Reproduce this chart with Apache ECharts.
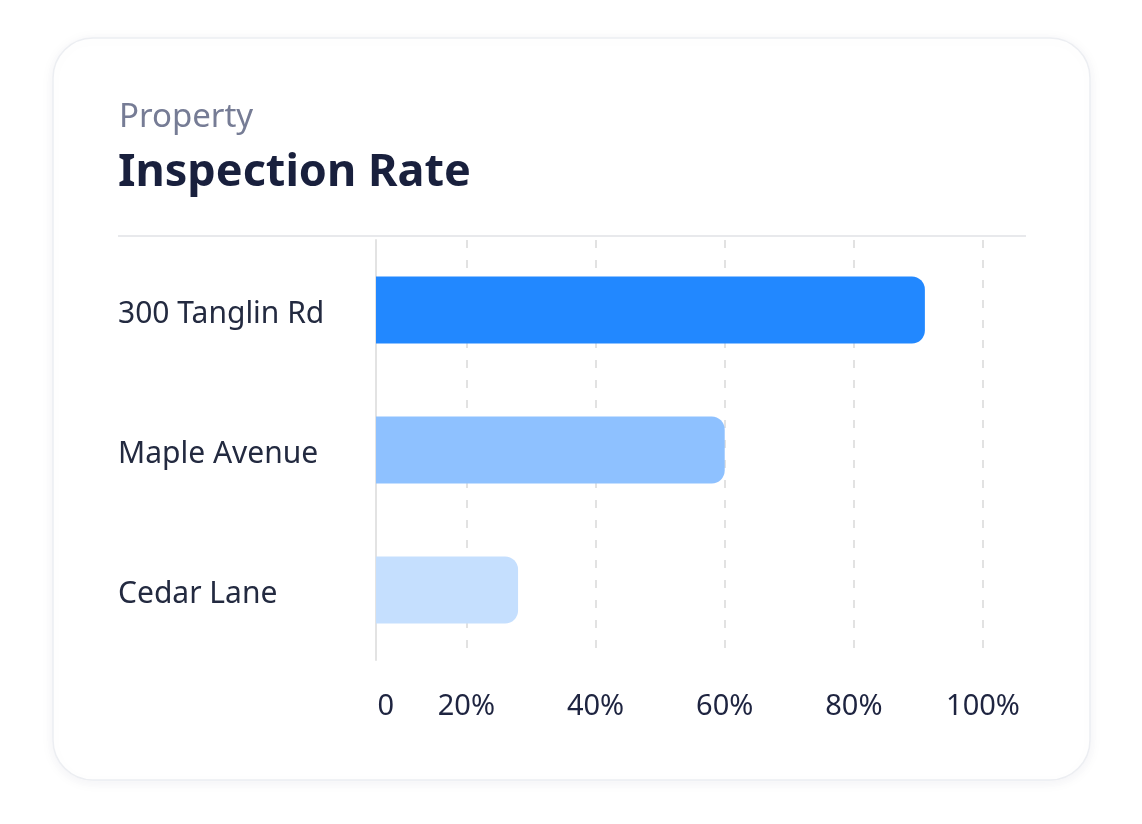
<!DOCTYPE html>
<html>
<head>
<meta charset="utf-8">
<script src="https://cdn.jsdelivr.net/npm/echarts@6/dist/echarts.min.js"></script>
<style>
  html, body { margin: 0; padding: 0; background: #fff; }
  #chart { width: 1142px; height: 824px; }
</style>
</head>
<body>
<div id="chart"></div>
<script>
// property inspection rate (%)
var properties = ['300 Tanglin Rd', 'Maple Avenue', 'Cedar Lane'];
var rates = [91, 60, 28];
var barColors = ['#2288ff', '#8ec1ff', '#c5dffe'];
var tickValues = [20, 40, 60, 80, 100];

var myChart = echarts.init(document.getElementById('chart'));

var option = {
    backgroundColor: '#fff',
    animation: false,
    graphic: [
        {
            type: 'rect',
            shape: { x: 53, y: 38, width: 1037, height: 742, r: 40 },
            style: {
                fill: '#fff',
                stroke: '#eceef2',
                lineWidth: 1.5,
                shadowBlur: 14,
                shadowColor: 'rgba(30,40,80,0.06)',
                shadowOffsetY: 2
            },
            z: -10
        },
        {
            type: 'rect',
            shape: { x: 118, y: 235, width: 908, height: 2 },
            style: { fill: '#e8e9ec' },
            z: 1
        }
    ],
    title: [
        {
            text: 'Property',
            left: 114, top: 96,
            textStyle: { fontFamily: 'Noto Sans', fontSize: 33, fontWeight: 'normal', color: '#767c95' }
        },
        {
            text: 'Inspection Rate',
            left: 113, top: 146,
            textStyle: { fontFamily: 'Noto Sans', fontSize: 45, fontWeight: 'bold', color: '#19203d' }
        }
    ],
    grid: { left: 376, right: 159, top: 240, bottom: 164 },
    xAxis: {
        type: 'value',
        min: 6,
        max: 100,
        axisLine: { show: false },
        axisTick: { show: false, customValues: tickValues },
        splitLine: {
            show: true,
            lineStyle: { color: '#e2e2e2', width: 2, type: [8, 12] }
        },
        axisLabel: {
            customValues: [7.5].concat(tickValues),
            margin: 32,
            fontFamily: 'Noto Sans',
            fontSize: 29,
            color: '#1e2440',
            formatter: function (v) {
                return v < 10 ? '0' : v + '%';
            }
        }
    },
    yAxis: {
        type: 'category',
        inverse: true,
        data: properties,
        axisLine: { show: true, lineStyle: { color: '#e3e3e3', width: 2 } },
        axisTick: { show: false },
        axisLabel: {
            align: 'left',
            margin: 258,
            formatter: function (v) { return '{n|' + v + '}'; },
            rich: {
                n: {
                    padding: [8, 0, 0, 0],
                    fontFamily: 'Noto Sans',
                    fontSize: 30,
                    color: '#232a40'
                }
            }
        }
    },
    series: [
        {
            type: 'bar',
            barWidth: 67,
            data: rates.map(function (v, i) {
                return { value: v, itemStyle: { color: barColors[i] } };
            }),
            itemStyle: { borderRadius: [0, 13, 13, 0] }
        }
    ]
};

myChart.setOption(option);
</script>
</body>
</html>
